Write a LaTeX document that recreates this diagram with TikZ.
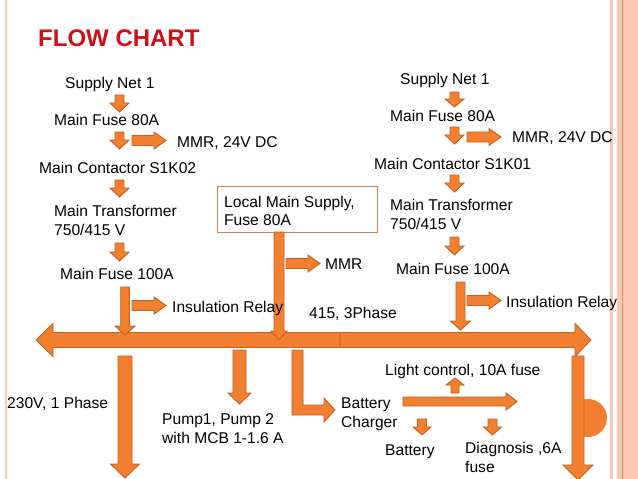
\documentclass[tikz,border=0pt]{standalone}
\usepackage{fontspec}
\setmainfont{Liberation Sans}
\definecolor{arrfill}{RGB}{243,128,48}
\definecolor{arrline}{RGB}{196,96,32}
\definecolor{titlered}{RGB}{204,16,24}
\definecolor{pale}{RGB}{246,200,185}
\definecolor{salmon}{RGB}{251,198,178}
\definecolor{rline}{RGB}{232,140,100}
\definecolor{boxline}{RGB}{205,130,80}
\tikzset{
  blockarrow/.style={fill=arrfill, draw=arrline, line width=0.9pt, line join=miter},
  lbl/.style={anchor=base west, inner sep=0pt, font=\fontsize{15.6}{19}\selectfont},
}
% x, ytop, ytip, shaft half, head half, head length
\newcommand\DownArr[6]{\filldraw[blockarrow] (#1-#4,#2) -- (#1+#4,#2) -- (#1+#4,#3-#6) -- (#1+#5,#3-#6) -- (#1,#3) -- (#1-#5,#3-#6) -- (#1-#4,#3-#6) -- cycle;}
% x, ybottom, ytip, shaft half, head half, head length
\newcommand\UpArr[6]{\filldraw[blockarrow] (#1-#4,#2) -- (#1+#4,#2) -- (#1+#4,#3+#6) -- (#1+#5,#3+#6) -- (#1,#3) -- (#1-#5,#3+#6) -- (#1-#4,#3+#6) -- cycle;}
% xstart, xtip, y, shaft half, head half, head length
\newcommand\RightArr[6]{\filldraw[blockarrow] (#1,#3-#4) -- (#2-#6,#3-#4) -- (#2-#6,#3-#5) -- (#2,#3) -- (#2-#6,#3+#5) -- (#2-#6,#3+#4) -- (#1,#3+#4) -- cycle;}
\newcommand\LeftArr[6]{\filldraw[blockarrow] (#1,#3-#4) -- (#2+#6,#3-#4) -- (#2+#6,#3-#5) -- (#2,#3) -- (#2+#6,#3+#5) -- (#2+#6,#3+#4) -- (#1,#3+#4) -- cycle;}
\begin{document}
\begin{tikzpicture}[x=1pt,y=-1pt]
\useasboundingbox (0,0) rectangle (638,479);
\fill[white] (0,0) rectangle (638,479);

% ---------- borders ----------
\fill[pale] (4.5,0) rectangle (6.8,479);
\fill[pale] (610,0) rectangle (612.5,479);
\fill[salmon] (617,0) rectangle (638,479);
\draw[rline, line width=1pt] (622.5,0) -- (622.5,479);

% ---------- arrows: left column ----------
\DownArr{119.5}{95}{112}{4.5}{9.5}{9}
\DownArr{119.5}{132}{149}{4.5}{9.5}{9}
\RightArr{132}{166}{140.5}{5}{8.5}{12}
\DownArr{119.5}{180}{197}{4.5}{9.5}{9}
\DownArr{119.5}{243}{261}{4.5}{9.5}{9}
\RightArr{132}{166}{305.5}{5}{8.5}{12}

% ---------- arrows: right column ----------
\DownArr{454.5}{92}{107}{4.5}{9.5}{8}
\DownArr{454.5}{127}{144}{4.5}{9.5}{9}
\RightArr{467}{501}{137}{5}{8.5}{12}
\DownArr{454.5}{175}{192}{4.5}{9.5}{9}
\DownArr{454.5}{237}{255}{4.5}{9.5}{9}
\RightArr{467}{501}{300.5}{5}{8.5}{12}

% ---------- local main supply ----------
\node[draw=boxline, line width=0.8pt, minimum width=160pt, minimum height=46pt, inner sep=0pt] (lms) at (297,209) {};
\RightArr{286}{320}{263.5}{5}{8.5}{12}

% ---------- bus ----------
\LeftArr{340}{36}{340}{7.5}{16.5}{17}
\RightArr{340}{591}{340}{7.5}{16.5}{16}

% arrows into bus
\DownArr{125}{287}{335}{4.3}{10}{9}
\DownArr{460.5}{282}{330}{4.5}{10}{9}
\DownArr{279}{232}{340}{5}{8}{9}

% ---------- arrows below bus ----------
\DownArr{125}{356}{478}{7}{14.5}{14}
\DownArr{239.5}{350}{404}{6.5}{11.5}{11}
\filldraw[blockarrow] (292,350) -- (303,350) -- (303,405) -- (324,405) -- (324,398) -- (335,410) -- (324,422) -- (324,415) -- (292,415) -- cycle;
\RightArr{403}{517}{401.5}{4.5}{8.5}{11}
\UpArr{455}{393}{378}{4}{9}{7}
\DownArr{422}{419}{435}{4.5}{9}{8}
\DownArr{492.5}{419}{435}{4.5}{9}{8}

% right decoration circle and big arrow
\begin{scope}
\clip (578,390) rectangle (615,450);
\fill[arrfill] (588,418) circle (19pt);
\end{scope}
\DownArr{578}{356}{480}{6}{15}{15}

% ---------- texts ----------
\node[anchor=base west, inner sep=0pt, font=\fontsize{24}{28}\selectfont\bfseries, text=titlered] (title) at (38,46) {FLOW CHART};

\node[lbl] (snA) at (65,88) {Supply Net 1};
\node[lbl] (mfA) at (54,125) {Main Fuse 80A};
\node[lbl] (mmrA) at (177,147) {MMR, 24V DC};
\node[lbl] (mcA) at (39,173) {Main Contactor S1K02};
\node[lbl] (mtA) at (54,216) {Main Transformer};
\node[lbl] (mtvA) at (54,235) {750/415 V};
\node[lbl] (mfhA) at (60,279) {Main Fuse 100A};
\node[lbl] (irA) at (172,312) {Insulation Relay};

\node[lbl] (snB) at (400,84) {Supply Net 1};
\node[lbl] (mfB) at (390,121) {Main Fuse 80A};
\node[lbl] (mmrB) at (512,142) {MMR, 24V DC};
\node[lbl] (mcB) at (374,169) {Main Contactor S1K01};
\node[lbl] (mtB) at (390,210) {Main Transformer};
\node[lbl] (mtvB) at (390,229) {750/415 V};
\node[lbl] (mfhB) at (396,274) {Main Fuse 100A};
\node[lbl] (irB) at (506,307) {Insulation Relay};

\node[lbl] (lmsA) at (224,207) {Local Main Supply,};
\node[lbl] (lmsB) at (224,225) {Fuse 80A};
\node[lbl] (mmrC) at (325,269) {MMR};
\node[lbl] (tph) at (309,318) {415, 3Phase};

\node[lbl] (oph) at (7,408) {230V, 1 Phase};
\node[lbl] (pmpA) at (162,424) {Pump1, Pump 2};
\node[lbl] (pmpB) at (162,443) {with MCB 1-1.6 A};
\node[lbl] (bcA) at (341,408) {Battery};
\node[lbl] (bcB) at (341,427) {Charger};
\node[lbl] (lc) at (385,375) {Light control, 10A fuse};
\node[lbl] (bat) at (385,455) {Battery};
\node[lbl] (diaA) at (465,453) {Diagnosis ,6A};
\node[lbl] (diaB) at (465,472) {fuse};
\end{tikzpicture}
\end{document}
